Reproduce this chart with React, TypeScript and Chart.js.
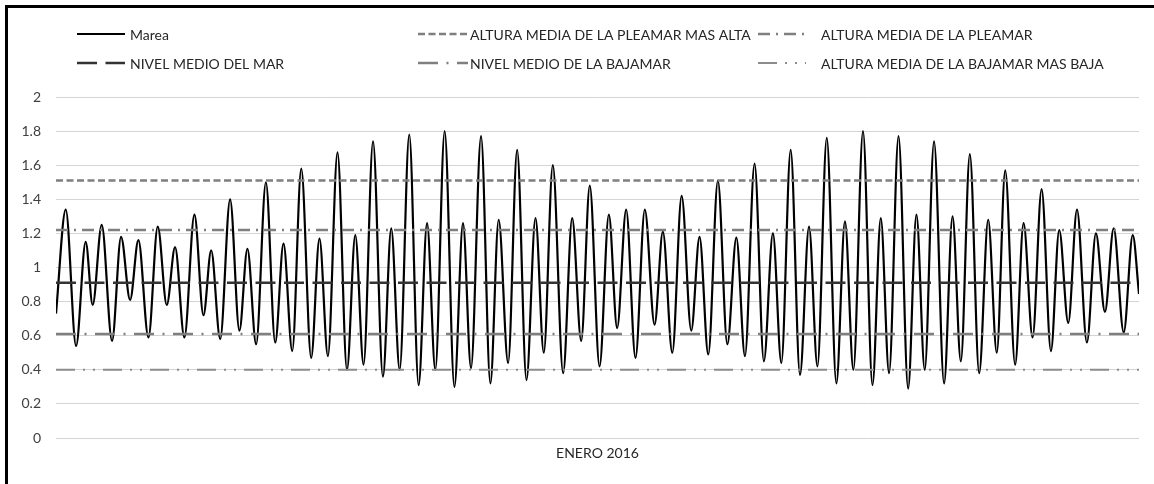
import React, { useEffect, useRef } from "react";
import { Chart, registerables } from "chart.js";

Chart.register(...registerables);

// Tide extrema (hours since 1 Jan 00:00, height in m)
const tideHours = [
  0,
  6.7, 13.8, 20.4, 25.2, 31.4, 38.5, 44.7, 50.9, 56.6, 63.5,
  69.9, 76.1, 81.8, 88.2, 95.1, 101.3, 106.6, 112.8, 119.6, 126.0,
  131.5, 137.5, 144.2, 150.6, 156.3, 162.3, 168.5, 175.3, 181.0, 186.8,
  193.4, 199.9, 205.6, 211.3, 217.8, 224.6, 230.3, 236.1, 242.7, 249.1,
  254.9, 260.6, 267.0, 273.7, 279.6, 285.1, 292.0, 298.4, 304.1, 310.6,
  316.8, 323.2, 329.4, 335.1, 341.3, 348.4, 354.6, 360.8, 366.7, 373.4,
  379.8, 385.5, 391.7, 398.1, 404.5, 411.2, 416.9, 423.4, 429.8, 436.4,
  442.1, 448.1, 454.7, 461.2, 467.4, 473.3, 479.9, 486.3, 492.5, 498.3,
  504.7, 511.1, 517.3, 523.1, 529.5, 536.1, 542.0, 547.8, 554.4, 560.9,
  566.6, 572.3, 578.8, 585.4, 591.1, 596.8, 603.2, 610.1, 615.9, 621.6,
  627.8, 634.2, 640.4, 646.3, 652.1, 658.9, 664.7, 670.9, 677.1, 683.5,
  689.2, 695.4, 701.4, 708.2, 714.4, 720.6, 726.6, 733.5, 739.7,
  744,
];
const tideHeights = [
  0.73,
  1.34, 0.54, 1.15, 0.78, 1.25, 0.57, 1.18, 0.81, 1.16, 0.59,
  1.24, 0.78, 1.12, 0.59, 1.31, 0.72, 1.10, 0.58, 1.40, 0.63,
  1.11, 0.55, 1.50, 0.56, 1.14, 0.51, 1.58, 0.47, 1.17, 0.48,
  1.675, 0.40, 1.19, 0.43, 1.74, 0.36, 1.23, 0.40, 1.78, 0.31,
  1.26, 0.40, 1.80, 0.30, 1.26, 0.41, 1.77, 0.32, 1.28, 0.44,
  1.69, 0.34, 1.29, 0.50, 1.60, 0.38, 1.29, 0.57, 1.48, 0.42,
  1.31, 0.645, 1.34, 0.47, 1.34, 0.665, 1.21, 0.50, 1.42, 0.63,
  1.18, 0.49, 1.51, 0.55, 1.175, 0.48, 1.61, 0.45, 1.20, 0.44,
  1.69, 0.37, 1.24, 0.42, 1.76, 0.32, 1.27, 0.40, 1.80, 0.31,
  1.29, 0.38, 1.77, 0.29, 1.31, 0.40, 1.74, 0.32, 1.30, 0.45,
  1.665, 0.38, 1.28, 0.50, 1.57, 0.43, 1.26, 0.59, 1.46, 0.51,
  1.22, 0.675, 1.34, 0.56, 1.20, 0.74, 1.23, 0.62, 1.19,
  0.845,
];

const tideName = "Marea";
const levelNames = [
  "ALTURA MEDIA DE LA PLEAMAR MAS ALTA",
  "ALTURA MEDIA DE LA PLEAMAR",
  "NIVEL MEDIO DEL MAR",
  "NIVEL MEDIO DE LA BAJAMAR",
  "ALTURA MEDIA DE LA BAJAMAR MAS BAJA",
];
const levelValues = [1.51, 1.22, 0.91, 0.61, 0.4];
const monthLabel = "ENERO 2016";
const monthStartHour = 0;
const monthEndHour = 744;
const yMin = 0;
const yMax = 2;
const yStep = 0.2;

const FONT = "Lato, 'Open Sans', sans-serif";

export default function App() {
  const ref = useRef<HTMLCanvasElement>(null);

  useEffect(() => {
    if (!ref.current) return;
    const levelStyles = [
      { color: "#7f7f7f", width: 2.5, dash: [7, 3.5] },
      { color: "#7f7f7f", width: 2.5, dash: [12, 6, 2, 6] },
      { color: "#333333", width: 2.5, dash: [20, 8.5] },
      { color: "#7f7f7f", width: 2.5, dash: [20, 8.5, 2, 8.5] },
      { color: "#8c8c8c", width: 2, dash: [19, 8, 2, 8, 2, 8] },
    ];

    const datasets: any[] = [
      {
        label: tideName,
        data: tideHours.map((h, i) => ({ x: h, y: tideHeights[i] })),
        borderColor: "#000000",
        borderWidth: 2.2,
        pointRadius: 0,
        cubicInterpolationMode: "monotone",
        fill: false,
        order: 1,
      },
      ...levelValues.map((v, i) => ({
        label: levelNames[i],
        data: [
          { x: monthStartHour, y: v },
          { x: monthEndHour, y: v },
        ],
        borderColor: levelStyles[i].color,
        borderWidth: levelStyles[i].width,
        borderDash: levelStyles[i].dash,
        pointRadius: 0,
        fill: false,
        order: 0,
      })),
    ];

    // legend layout: [datasetIndex, sampleX1, sampleX2, textX, y]
    const legendLayout = [
      [0, 77, 125, 130, 34],
      [1, 418, 468, 470, 34],
      [2, 758, 806, 821, 34],
      [3, 77, 125, 130, 63],
      [4, 418, 468, 470, 63],
      [5, 758, 806, 821, 63],
    ];

    const framePlugin = {
      id: "frameAndLegend",
      afterDraw(chart: any) {
        const ctx = chart.ctx;
        ctx.save();
        ctx.strokeStyle = "#000";
        ctx.lineWidth = 3;
        ctx.setLineDash([]);
        ctx.beginPath();
        ctx.moveTo(1154, 6.5);
        ctx.lineTo(6.5, 6.5);
        ctx.lineTo(6.5, 484);
        ctx.stroke();
        ctx.font = `14px ${FONT}`;
        ctx.textBaseline = "middle";
        ctx.fillStyle = "#262626";
        legendLayout.forEach(([di, x1, x2, tx, y]) => {
          const ds = chart.data.datasets[di];
          ctx.strokeStyle = ds.borderColor;
          ctx.lineWidth = ds.borderWidth;
          ctx.setLineDash(ds.borderDash || []);
          ctx.beginPath();
          ctx.moveTo(x1, y);
          ctx.lineTo(x2, y);
          ctx.stroke();
          ctx.setLineDash([]);
          ctx.fillText(ds.label, tx, y + 1);
        });
        ctx.restore();
      },
    };

    const chart = new Chart(ref.current, {
      type: "line",
      data: { datasets },
      options: {
        animation: false,
        responsive: false,
        devicePixelRatio: 1,
        layout: { padding: { top: 97, right: 15, left: 0, bottom: 0 } },
        plugins: {
          legend: { display: false },
          tooltip: { enabled: false },
          title: { display: false },
        },
        scales: {
          x: {
            type: "linear",
            min: monthStartHour,
            max: monthEndHour,
            ticks: { display: false },
            grid: { display: false, drawTicks: false },
            border: { display: false },
            title: {
              display: true,
              text: monthLabel,
              color: "#262626",
              font: { family: FONT, size: 14 },
              padding: { top: 0, bottom: 22 },
            },
            afterFit: (s: any) => {
              s.height = 46;
            },
          },
          y: {
            min: yMin,
            max: yMax,
            ticks: {
              stepSize: yStep,
              color: "#404040",
              padding: 15,
              font: { family: FONT, size: 14 },
              callback: (v: any) => String(parseFloat(Number(v).toFixed(1))),
            },
            grid: { color: "#d4d4d4", lineWidth: 1, drawTicks: false },
            border: { display: false },
            afterFit: (s: any) => {
              s.width = 56;
            },
          },
        },
      } as any,
      plugins: [framePlugin],
    });
    return () => chart.destroy();
  }, []);

  return (
    <div
      style={{
        position: "fixed",
        left: 0,
        top: 0,
        width: 1154,
        height: 484,
        overflow: "hidden",
        background: "#fff",
      }}
    >
      <canvas ref={ref} width={1154} height={484} style={{ display: "block" }} />
    </div>
  );
}
